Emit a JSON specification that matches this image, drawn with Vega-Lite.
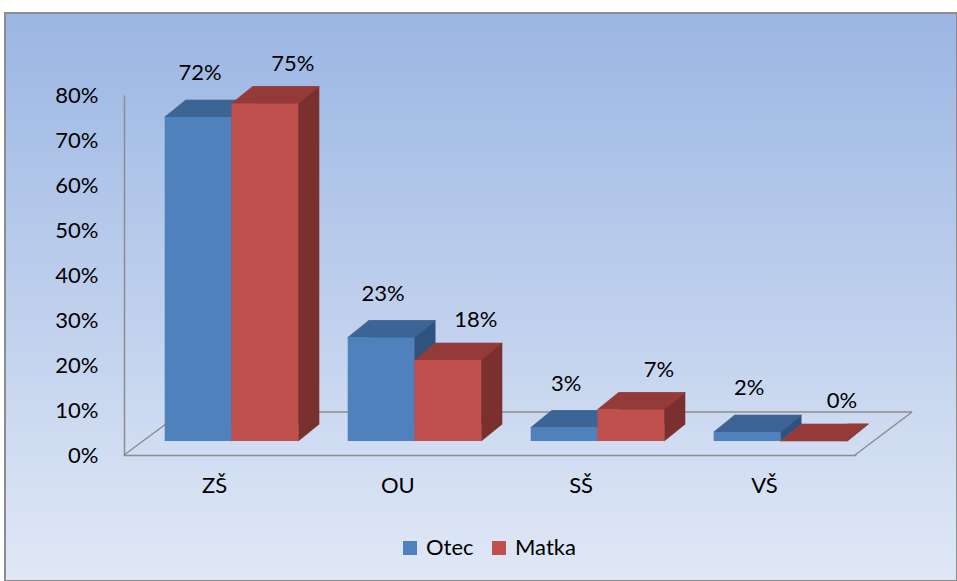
{
  "$schema": "https://vega.github.io/schema/vega-lite/v6.json",
  "width": 952,
  "height": 568,
  "autosize": "none",
  "padding": {"left": 5, "top": 13, "right": 0, "bottom": 0},
  "background": "white",
  "config": {
    "font": "Lato",
    "view": {
      "fill": {"gradient": "linear", "x1": 0, "y1": 0, "x2": 0, "y2": 1,
        "stops": [{"offset": 0, "color": "#9BB6E3"}, {"offset": 1, "color": "#E0E8F6"}]},
      "stroke": "#8C8C8C",
      "strokeWidth": 2
    }
  },
  "data": {"values": [
    {"cat": "ZŠ", "series": "Otec", "value": 0.72},
    {"cat": "ZŠ", "series": "Matka", "value": 0.75},
    {"cat": "OU", "series": "Otec", "value": 0.23},
    {"cat": "OU", "series": "Matka", "value": 0.18},
    {"cat": "SŠ", "series": "Otec", "value": 0.03},
    {"cat": "SŠ", "series": "Matka", "value": 0.07},
    {"cat": "VŠ", "series": "Otec", "value": 0.02},
    {"cat": "VŠ", "series": "Matka", "value": 0.0}
  ]},
  "layer": [
    {
      "data": {"values": [{}]},
      "mark": {"type": "rule", "color": "#8C8C8C", "strokeWidth": 1.5},
      "encoding": {
        "x": {"datum": -0.587, "type": "quantitative", "scale": {"domain": [-0.5, 3.5], "range": [135, 867], "nice": false, "zero": false}, "axis": null},
        "x2": {"datum": -0.27},
        "y": {"datum": 0, "type": "quantitative", "scale": {"domain": [0, 0.8], "range": [442, 82], "nice": false}, "axis": null},
        "y2": {"datum": 0.0956}
      }
    },
    {
      "data": {"values": [{}]},
      "mark": {"type": "rule", "color": "#8C8C8C", "strokeWidth": 1.5},
      "encoding": {
        "x": {"datum": -0.27, "type": "quantitative", "scale": {"domain": [-0.5, 3.5], "range": [135, 867], "nice": false, "zero": false}, "axis": null},
        "x2": {"datum": 3.719},
        "y": {"datum": 0.0956, "type": "quantitative", "scale": {"domain": [0, 0.8], "range": [442, 82], "nice": false}, "axis": null},
        "y2": {"datum": 0.0956}
      }
    },
    {
      "data": {"values": [{}]},
      "mark": {"type": "rule", "color": "#8C8C8C", "strokeWidth": 1.5},
      "encoding": {
        "x": {"datum": 3.719, "type": "quantitative", "scale": {"domain": [-0.5, 3.5], "range": [135, 867], "nice": false, "zero": false}, "axis": null},
        "x2": {"datum": 3.407},
        "y": {"datum": 0.0956, "type": "quantitative", "scale": {"domain": [0, 0.8], "range": [442, 82], "nice": false}, "axis": null},
        "y2": {"datum": 0}
      }
    },
    {
      "mark": {"type": "point", "opacity": 0},
      "encoding": {
        "x": {"field": "cat", "type": "nominal",
          "scale": {"type": "band", "domain": ["ZŠ", "OU", "SŠ", "VŠ"], "range": [118, 851], "paddingInner": 0, "paddingOuter": 0},
          "axis": {"orient": "bottom", "offset": -126, "title": null, "labelAngle": 0, "ticks": false, "tickSize": 0,
            "domain": true, "domainColor": "#8C8C8C", "domainWidth": 1.5, "labelPadding": 20,
            "labelFontSize": 22, "labelFont": "Lato", "labelColor": "#000000", "grid": false}},
        "y": {"field": "value", "type": "quantitative",
          "scale": {"domain": [0, 0.8], "range": [442, 82], "nice": false},
          "axis": {"orient": "left", "offset": -119, "title": null, "values": [0, 0.1, 0.2, 0.3, 0.4, 0.5, 0.6, 0.7, 0.8],
            "format": ".0%", "ticks": false, "tickSize": 0, "grid": false, "domain": true, "domainColor": "#8C8C8C", "domainWidth": 1.5,
            "labelPadding": 26, "labelFontSize": 22, "labelFont": "Lato", "labelColor": "#000000"}}
      }
    },
    {
      "mark": {"type": "bar", "yOffset": -17, "y2Offset": -17},
      "encoding": {
        "x": {"field": "cat", "type": "nominal", "scale": {"type": "band", "domain": ["ZŠ", "OU", "SŠ", "VŠ"], "range": [156, 888], "paddingInner": 0.27, "paddingOuter": 0.135}, "axis": null},
        "xOffset": {"field": "series", "type": "nominal", "scale": {"domain": ["Otec", "Matka"]}},
        "y": {"field": "value", "type": "quantitative", "scale": {"domain": [0, 0.8], "range": [428, 68], "nice": false}, "axis": null},
        "color": {"field": "series", "type": "nominal", "scale": {"domain": ["Otec", "Matka"], "range": ["#30527F", "#7A302E"]}, "legend": null}
      }
    },
    {
      "mark": {"type": "point", "shape": "M 0.668 0 L 0.668 -0.34 L 1.088 -0.34 Z", "size": 10000, "filled": true, "opacity": 1, "strokeWidth": 0.6},
      "encoding": {
        "x": {"field": "cat", "type": "nominal", "scale": {"type": "band", "domain": ["ZŠ", "OU", "SŠ", "VŠ"], "range": [135, 867], "paddingInner": 0.27, "paddingOuter": 0.135}, "axis": null},
        "xOffset": {"field": "series", "type": "nominal", "scale": {"domain": ["Otec", "Matka"]}},
        "y": {"datum": 0, "type": "quantitative", "scale": {"domain": [0, 0.8], "range": [428, 68], "nice": false}, "axis": null},
        "color": {"field": "series", "type": "nominal", "scale": {"domain": ["Otec", "Matka"], "range": ["#30527F", "#7A302E"]}, "legend": null},
        "stroke": {"field": "series", "type": "nominal", "scale": {"domain": ["Otec", "Matka"], "range": ["#30527F", "#7A302E"]}, "legend": null}
      }
    },
    {
      "mark": {"type": "point", "shape": "M -0.668 0 L 0.668 0 L 1.088 -0.34 L -0.248 -0.34 Z", "size": 10000, "filled": true, "opacity": 1, "strokeWidth": 0.6},
      "encoding": {
        "x": {"field": "cat", "type": "nominal", "scale": {"type": "band", "domain": ["ZŠ", "OU", "SŠ", "VŠ"], "range": [135, 867], "paddingInner": 0.27, "paddingOuter": 0.135}, "axis": null},
        "xOffset": {"field": "series", "type": "nominal", "scale": {"domain": ["Otec", "Matka"]}},
        "y": {"field": "value", "type": "quantitative", "scale": {"domain": [0, 0.8], "range": [428, 68], "nice": false}, "axis": null},
        "color": {"field": "series", "type": "nominal", "scale": {"domain": ["Otec", "Matka"], "range": ["#3C6494", "#943B39"]}, "legend": null},
        "stroke": {"field": "series", "type": "nominal", "scale": {"domain": ["Otec", "Matka"], "range": ["#3C6494", "#943B39"]}, "legend": null}
      }
    },
    {
      "mark": {"type": "bar"},
      "encoding": {
        "x": {"field": "cat", "type": "nominal", "scale": {"type": "band", "domain": ["ZŠ", "OU", "SŠ", "VŠ"], "range": [135, 867], "paddingInner": 0.27, "paddingOuter": 0.135}, "axis": null},
        "xOffset": {"field": "series", "type": "nominal", "scale": {"domain": ["Otec", "Matka"]}},
        "y": {"field": "value", "type": "quantitative", "scale": {"domain": [0, 0.8], "range": [428, 68], "nice": false}, "axis": null},
        "color": {"field": "series", "type": "nominal", "scale": {"domain": ["Otec", "Matka"], "range": ["#4F81BD", "#C0504D"]},
          "legend": {"orient": "none", "legendX": 394, "legendY": 524, "direction": "horizontal", "title": null,
            "symbolType": "square", "symbolSize": 196, "symbolStrokeWidth": 0, "labelFontSize": 22, "labelFont": "Lato",
            "labelColor": "#000000", "columnPadding": 14, "labelOffset": 5, "padding": 0}}
      }
    },
    {
      "transform": [{"filter": "datum.series === 'Otec'"}],
      "mark": {"type": "text", "baseline": "middle", "dy": -44, "dx": 2, "fontSize": 22, "font": "Lato", "color": "#000000"},
      "encoding": {
        "x": {"field": "cat", "type": "nominal", "scale": {"type": "band", "domain": ["ZŠ", "OU", "SŠ", "VŠ"], "range": [135, 867], "paddingInner": 0.27, "paddingOuter": 0.135}, "axis": null},
        "xOffset": {"field": "series", "type": "nominal", "scale": {"domain": ["Otec", "Matka"]}},
        "y": {"field": "value", "type": "quantitative", "scale": {"domain": [0, 0.8], "range": [428, 68], "nice": false}, "axis": null},
        "text": {"field": "value", "type": "quantitative", "format": ".0%"}
      }
    },
    {
      "transform": [{"filter": "datum.series === 'Matka'"}],
      "mark": {"type": "text", "baseline": "middle", "dy": -40, "dx": 28, "fontSize": 22, "font": "Lato", "color": "#000000"},
      "encoding": {
        "x": {"field": "cat", "type": "nominal", "scale": {"type": "band", "domain": ["ZŠ", "OU", "SŠ", "VŠ"], "range": [135, 867], "paddingInner": 0.27, "paddingOuter": 0.135}, "axis": null},
        "xOffset": {"field": "series", "type": "nominal", "scale": {"domain": ["Otec", "Matka"]}},
        "y": {"field": "value", "type": "quantitative", "scale": {"domain": [0, 0.8], "range": [428, 68], "nice": false}, "axis": null},
        "text": {"field": "value", "type": "quantitative", "format": ".0%"}
      }
    }
  ],
  "resolve": {
    "scale": {"x": "independent", "y": "independent", "xOffset": "independent", "color": "independent", "stroke": "independent"},
    "axis": {"x": "independent", "y": "independent"},
    "legend": {"color": "independent", "stroke": "independent"}
  }
}
